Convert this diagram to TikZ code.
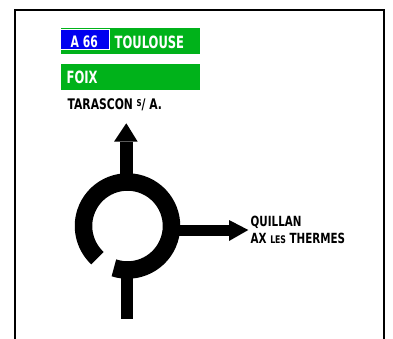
\documentclass[tikz,border=0pt]{standalone}
\usepackage{fontspec}
\newfontfamily\signfont{DejaVu Sans Condensed}[FakeStretch=0.82]
\newfontfamily\signfontn{DejaVu Sans Condensed}[FakeStretch=0.76]
\definecolor{signgreen}{RGB}{0,178,26}
\definecolor{signblue}{RGB}{0,0,240}
\tikzset{
  panel/.style={fill=signgreen, draw=none},
  whitetxt/.style={text=white, inner sep=0pt, anchor=base west, font=\signfontn\bfseries\fontsize{16.9}{18}\selectfont},
  blacktxt/.style={text=black, inner sep=0pt, anchor=base west, font=\signfont\bfseries\fontsize{14.6}{16}\selectfont},
  pict/.style={fill=black, draw=none}
}
\begin{document}
\begin{tikzpicture}[x=1pt,y=1pt]
\useasboundingbox (0,0) rectangle (393,-339);
\clip (0,0) rectangle (393,-339);
\fill[white] (0,0) rectangle (393,-339);
% frame
\draw[line width=2pt] (15,-10) rectangle (384,-360);
% panels
\fill[panel] (61,-28) rectangle (200,-54.5);
\filldraw[fill=signblue, draw=white, line width=1pt] (60.5,-29.5) rectangle (109.5,-50);
\node[whitetxt, font=\signfontn\bfseries\fontsize{15.8}{17}\selectfont] (a66) at (70.5,-47.5) {A 66};
\node[whitetxt] (toulouse) at (114.5,-48.3) {TOULOUSE};
\fill[panel] (61,-64) rectangle (200,-90.5);
\node[whitetxt] (foix) at (66.5,-83.3) {FOIX};
\node[blacktxt] (tarascon) at (67.5,-110) {TARASCON \raisebox{0.45ex}{\fontsize{9.5}{10}\selectfont S}/ A.};
% roundabout
\coordinate (c) at (127.5,-226);
\draw[line width=17.5pt] (c) ++(-108:44) arc[start angle=-108, end angle=227, radius=44];
% up arrow
\fill[pict] (120,-185) rectangle (132.7,-141.7);
\fill[pict] (114,-141.7) -- (126.3,-123.3) -- (137.7,-141.7) -- cycle;
% right arrow
\fill[pict] (175,-224.5) rectangle (229,-235.5);
\fill[pict] (229,-220) -- (248.3,-230) -- (229,-241) -- cycle;
% bottom stem
\fill[pict] (120.7,-272) rectangle (133.3,-319);
% destinations
\node[blacktxt, font=\signfont\bfseries\fontsize{14}{16}\selectfont] (quillan) at (250.5,-226.7) {QUILLAN};
\node[blacktxt, font=\signfont\bfseries\fontsize{14}{16}\selectfont] (ax) at (250.5,-243.3) {AX {\fontsize{10.5}{12}\selectfont LES} THERMES};
\end{tikzpicture}
\end{document}
